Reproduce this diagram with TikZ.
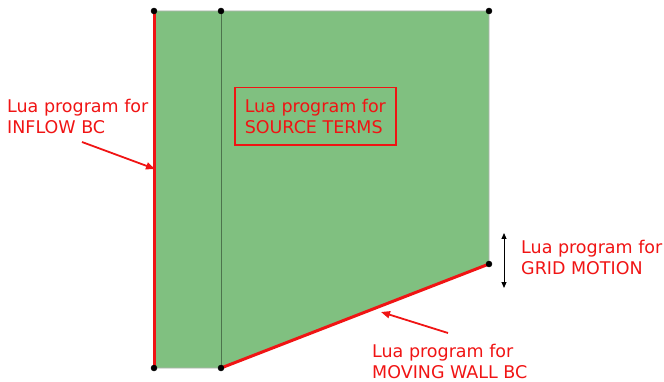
\documentclass[tikz,border=0pt]{standalone}
\usepackage{fontspec}
\setmainfont{DejaVu Sans}
\usetikzlibrary{arrows.meta}
\definecolor{domaingreen}{RGB}{128,192,128}
\definecolor{luared}{RGB}{240,20,20}
\tikzset{
  lualabel/.style={text=luared, align=left, anchor=north west, inner sep=0pt,
    font=\fontsize{17.5}{21.5}\selectfont},
  bcline/.style={luared, line width=3pt},
  pointer/.style={luared, line width=1.8pt, -{Triangle[length=9pt,width=7pt]}}
}
\begin{document}
\begin{tikzpicture}[x=1pt,y=-1pt]
    \useasboundingbox (0,0) rectangle (664,382);
    % Domain corners
    \coordinate (tl) at (154,11); \coordinate (tm) at (221,11);
    \coordinate (tr) at (489,11); \coordinate (br) at (489,264);
    \coordinate (bm) at (221,368); \coordinate (bl) at (154,368);
    % Flow domain
    \filldraw[fill=domaingreen, draw=gray!60, line width=0.8pt] (tl)--(tr)--(br)--(bm)--(bl)--cycle;
    \draw[domaingreen!60!black, line width=0.7pt] (tm)--(bm);
    % Boundaries with Lua programs
    \draw[bcline] (tl)--(bl);
    \draw[bcline] (bm)--(br);
    \foreach \p in {tl,tm,tr,br,bm,bl} \filldraw (\p) circle (3pt);

    % Labels
    \node[lualabel] (inflow) at (7,99) {Lua program for\\INFLOW BC};
    \node[lualabel, draw=luared, line width=1.5pt, inner xsep=10pt, inner ysep=11pt] (source) at (234,87)
      {Lua program for\\SOURCE TERMS};
    \node[lualabel] (grid) at (521,240) {Lua program for\\GRID MOTION};
    \node[lualabel] (wall) at (372,344) {Lua program for\\MOVING WALL BC};

    % Pointers
    \coordinate (inflowtail) at (82,142); \coordinate (inflowtip) at (155,169);
    \draw[pointer] (inflowtail)--(inflowtip);
    \coordinate (walltail) at (448,333); \coordinate (walltip) at (381,312);
    \draw[pointer] (walltail)--(walltip);
    \coordinate (gridtop) at (504,233); \coordinate (gridbot) at (504,288);
    \draw[black, line width=1pt, {Triangle[length=6pt,width=5pt]}-{Triangle[length=6pt,width=5pt]}] (gridtop)--(gridbot);
\end{tikzpicture}
\end{document}
